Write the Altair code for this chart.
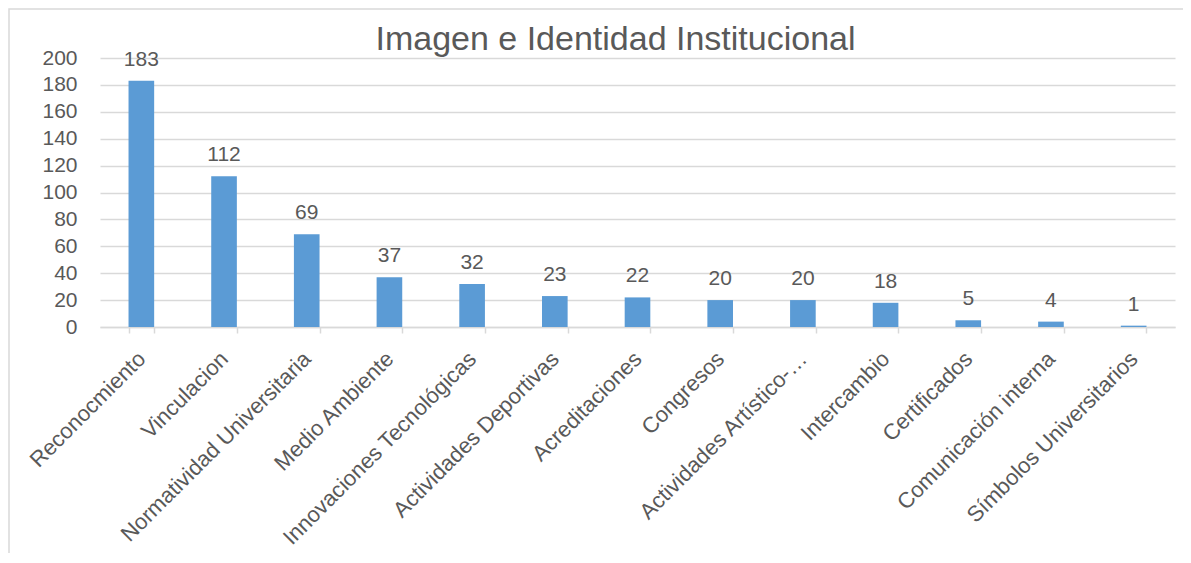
import altair as alt
import pandas as pd

categories = ["Reconocmiento", "Vinculacion", "Normatividad Universitaria", "Medio Ambiente",
              "Innovaciones Tecnológicas", "Actividades Deportivas", "Acreditaciones", "Congresos",
              "Actividades Artístico-…", "Intercambio", "Certificados", "Comunicación interna",
              "Símbolos Universitarios"]
values = [183, 112, 69, 37, 32, 23, 22, 20, 20, 18, 5, 4, 1]
y_ticks = [0, 20, 40, 60, 80, 100, 120, 140, 160, 180, 200]

df = pd.DataFrame({"cat": categories, "val": values})

FONT = "Liberation Sans"
GRAY = "#595959"
LINE = "#D9D9D9"

xenc = alt.X("cat:N", sort=None, title=None,
             scale=alt.Scale(paddingInner=0.69, paddingOuter=0.345),
             axis=alt.Axis(labelAngle=-45, labelAlign="right", labelBaseline="middle",
                           labelFont=FONT, labelFontSize=22, labelColor=GRAY,
                           labelPadding=22, tickBand="extent", tickSize=6, tickColor=LINE,
                           tickWidth=1.5, domainColor=LINE, domainWidth=1.5, grid=False,
                           labelLimit=400, labelOverlap=False))
yenc = alt.Y("val:Q", title=None,
             scale=alt.Scale(domain=[0, 200], nice=False),
             axis=alt.Axis(values=y_ticks, labelFont=FONT, labelFontSize=21, labelColor=GRAY,
                           labelPadding=23, ticks=False, domain=False, gridColor=LINE,
                           gridWidth=1.5, labelOverlap=False))

base = alt.Chart(df)
bars = base.mark_bar(color="#5B9BD5").encode(x=xenc, y=yenc)
labels = base.mark_text(font=FONT, fontSize=21, color=GRAY, baseline="alphabetic",
                        dy=-15).encode(x=xenc, y=yenc, text="val:Q")

border = alt.Chart(pd.DataFrame({"a": [0]})).mark_rect(
    filled=False, stroke=LINE, strokeWidth=1.5).encode(
    x=alt.value(-91), x2=alt.value(1100), y=alt.value(-49), y2=alt.value(700))

chart = alt.layer(border, bars, labels).properties(
    width=1075, height=269,
    title=alt.TitleParams("Imagen e Identidad Institucional", font=FONT, fontSize=34,
                          fontWeight="normal", color=GRAY, anchor="middle", dx=-22,
                          baseline="alphabetic", offset=-76),
    autosize=alt.AutoSizeParams(type="none"),
    padding={"left": 92, "top": 50, "right": 8, "bottom": 226},
).configure_view(stroke=None)

chart.save("out.html", embed_options={"renderer": "svg", "actions": False})
